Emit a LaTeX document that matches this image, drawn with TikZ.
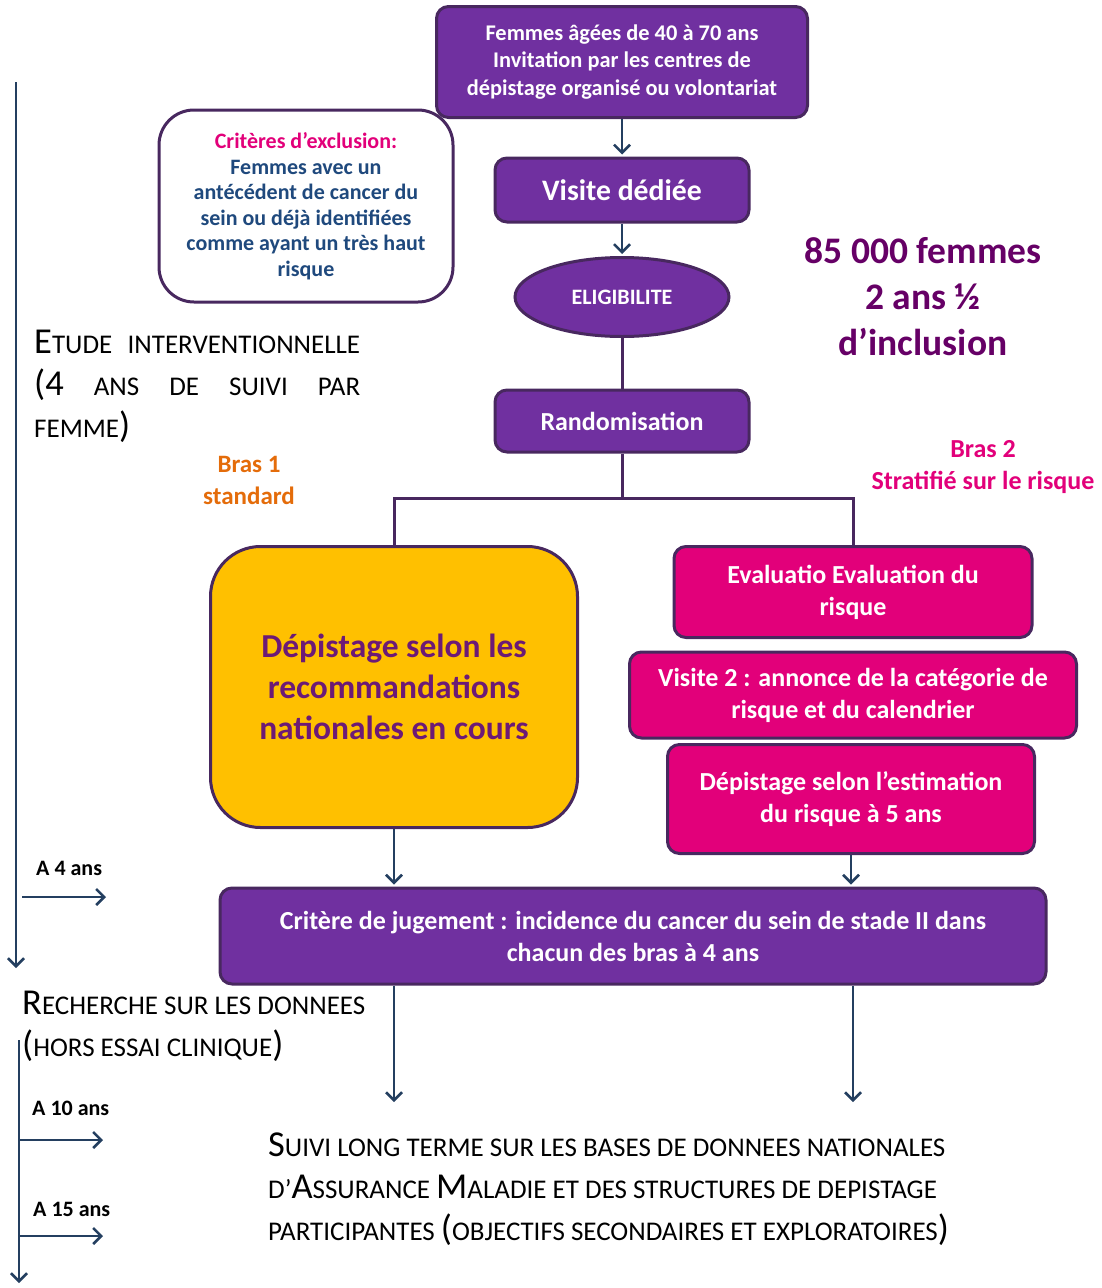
\documentclass[tikz,border=0pt]{standalone}
\usepackage{fontspec}
\setmainfont{Carlito}
\usetikzlibrary{shapes.geometric,arrows.meta}
\definecolor{pvio}{HTML}{7030A0}
\definecolor{pbord}{HTML}{48285F}
\definecolor{pblue}{HTML}{243F60}
\definecolor{pmag}{HTML}{E2007A}
\definecolor{pgold}{HTML}{FFC000}
\definecolor{porange}{HTML}{E46C0A}
\definecolor{pplum}{HTML}{660066}
\definecolor{pgrape}{HTML}{6C1A76}
\definecolor{pnavy}{HTML}{1F497D}
\newcommand{\Cap}[1]{{\fontsize{36.5}{42}\selectfont #1}}
\tikzset{
  box/.style={draw=pbord,line width=3pt,rounded corners=12pt,fill=pvio,text=white,align=center,inner sep=0pt},
  pbox/.style={box,fill=pmag,font=\fontsize{26}{32}\selectfont\bfseries},
  link/.style={draw=pbord,line width=3pt},
  arr/.style={draw=pblue,line width=2.5pt,shorten >=2pt,-{Straight Barb[length=8pt,width=16pt]}},
  sctext/.style={font=\fontsize{27}{42}\selectfont,anchor=west,align=left,inner sep=0pt}
}
\begin{document}
\begin{tikzpicture}[x=1pt,y=-1pt]
\useasboundingbox (0,0) rectangle (1102,1288);
%boxes
\node[box,minimum width=371pt,minimum height=111pt,font=\fontsize{22.4}{27.5}\selectfont\bfseries](femmes) at (622,62) {Femmes âgées de 40 à 70 ans\\Invitation par les centres de\\dépistage organisé ou volontariat};
\node[box,minimum width=254pt,minimum height=64pt,font=\fontsize{29.7}{32}\selectfont\bfseries](visite) at (622,190) {Visite dédiée};
\node[box,ellipse,minimum width=214pt,minimum height=79pt,font=\fontsize{22}{24}\selectfont\bfseries](elig) at (622,297) {ELIGIBILITE};
\node[box,minimum width=254pt,minimum height=62pt,font=\fontsize{26}{28}\selectfont\bfseries](rando) at (622,421) {Randomisation};
\node[box,fill=white,rounded corners=35pt,minimum width=294pt,minimum height=192pt,text=pnavy,font=\fontsize{22}{25.5}\selectfont\bfseries](excl) at (306,206) {\textcolor{pmag}{Critères d’exclusion:}\\Femmes avec un\\antécédent de cancer du\\sein ou déjà identifiées\\comme ayant un très haut\\risque};
\node[box,fill=pgold,text=pgrape,rounded corners=50pt,minimum width=367pt,minimum height=281pt,font=\fontsize{33.5}{41}\selectfont\bfseries](depist) at (394,687) {Dépistage selon les\\recommandations\\nationales en cours};
\node[pbox,minimum width=358pt,minimum height=91pt](eval) at (853,592) {Evaluatio Evaluation du\\risque};
\node[pbox,minimum width=447pt,minimum height=86pt](visdeux) at (853,695) {Visite 2 : annonce de la catégorie de\\risque et du calendrier};
\node[pbox,minimum width=367pt,minimum height=109pt](risk) at (851,799) {Dépistage selon l’estimation\\du risque à 5 ans};
\node[box,minimum width=826pt,minimum height=96pt,font=\fontsize{26}{32}\selectfont\bfseries](crit) at (633,936) {Critère de jugement : incidence du cancer du sein de stade II dans\\chacun des bras à 4 ans};
%labels
\node[text=pplum,align=center,font=\fontsize{37.5}{46}\selectfont\bfseries](nb) at (923,297) {85 000 femmes\\2 ans ½\\d’inclusion};
\node[text=porange,align=center,font=\fontsize{25}{32}\selectfont\bfseries](brasun) at (249,480) {Bras 1\\standard};
\node[text=pmag,align=center,font=\fontsize{26}{32}\selectfont\bfseries](brasdeux) at (983,467) {Bras 2\\Stratifié sur le risque};
\node[sctext](etude) at (34,386) {\hbox to 326pt{\Cap{E}TUDE\hfill INTERVENTIONNELLE}\\\hbox to 326pt{\Cap{(4}\hfill ANS\hfill DE\hfill SUIVI\hfill PAR}\\FEMME\Cap{)}};
\node[sctext](rech) at (22,1026) {\Cap{R}ECHERCHE SUR LES DONNEES\\\Cap{(}HORS ESSAI CLINIQUE\Cap{)}};
\node[sctext](suivi) at (268,1189) {\Cap{S}UIVI LONG TERME SUR LES BASES DE DONNEES NATIONALES\\D’\Cap{A}SSURANCE \Cap{M}ALADIE ET DES STRUCTURES DE DEPISTAGE\\PARTICIPANTES \Cap{(}OBJECTIFS SECONDAIRES ET EXPLORATOIRES\Cap{)}};
\node[anchor=west,inner sep=0pt,font=\fontsize{22}{24}\selectfont\bfseries](aquatre) at (36,868) {A 4 ans};
\node[anchor=west,inner sep=0pt,font=\fontsize{22}{24}\selectfont\bfseries](adix) at (32,1108) {A 10 ans};
\node[anchor=west,inner sep=0pt,font=\fontsize{22}{24}\selectfont\bfseries](aquinze) at (33,1209) {A 15 ans};
%flow
\draw[arr](femmes)--(visite);
\draw[arr](visite)--(elig);
\draw[link](elig)--(rando);
\draw[link](rando.south)--++(0,45)coordinate(split);
\draw[link](depist.north)|-(split)-|(eval.north);
\draw[arr](depist.south)--(depist.south|-crit.north);
\draw[arr](risk.south)--(risk.south|-crit.north);
\coordinate(sa) at (394,1104);
\coordinate(sb) at (853,1104);
\draw[arr](sa|-crit.south)--(sa);
\draw[arr](sb|-crit.south)--(sb);
%time axes
\coordinate(ta) at (16,82);
\coordinate(tb) at (16,970);
\coordinate(tc) at (19,1040);
\coordinate(td) at (19,1285);
\draw[arr](ta)--(tb);
\draw[arr](tc)--(td);
\foreach \y/\x in {897/22,1140/19,1236/19}{\draw[arr](\x,\y)--++(86,0);}
\end{tikzpicture}
\end{document}
